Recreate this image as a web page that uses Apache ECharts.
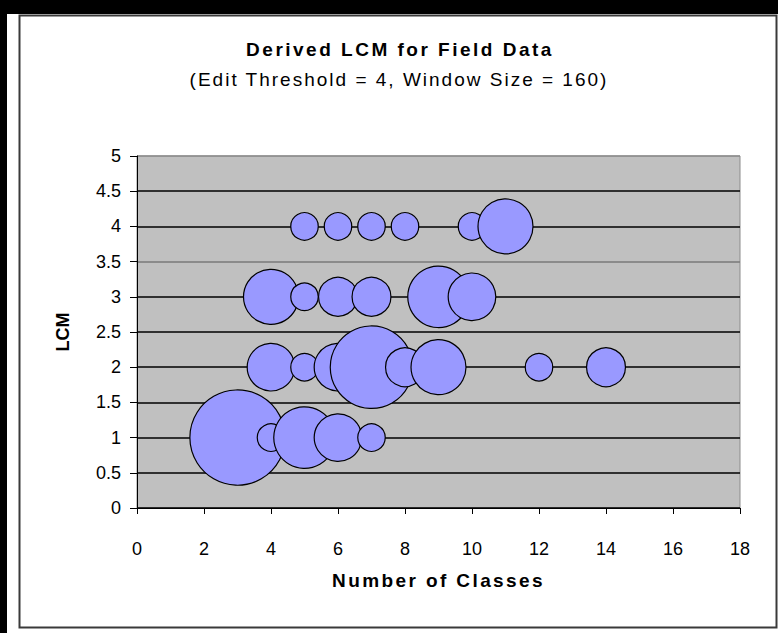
<!DOCTYPE html>
<html>
<head>
<meta charset="utf-8">
<title>Derived LCM for Field Data</title>
<script src="https://cdn.jsdelivr.net/npm/echarts@6/dist/echarts.min.js"></script>
<style>
  html, body { margin: 0; padding: 0; background: #000; }
  #chart { width: 778px; height: 633px; }
</style>
</head>
<body>
<div id="chart"></div>
<script>
// Bubble data: number of classes (x), LCM (y) and occurrence count (bubble size)
const classes = [5, 6, 7, 8, 10, 11,   4, 5, 6, 7, 9, 10,   4, 5, 6, 7, 8, 9, 12, 14,   3, 4, 5, 6, 7];
const lcm     = [4, 4, 4, 4, 4, 4,     3, 3, 3, 3, 3, 3,    2, 2, 2, 2, 2, 2, 2, 2,     1, 1, 1, 1, 1];
const counts  = [1, 1, 1, 1, 1, 4,     4, 1, 2, 2, 5, 3,    3, 1, 3, 9, 2, 4, 1, 2,     12, 1, 5, 3, 1];

const xTicks = [0, 2, 4, 6, 8, 10, 12, 14, 16, 18];
const yTicks = [0, 0.5, 1, 1.5, 2, 2.5, 3, 3.5, 4, 4.5, 5];

const TITLE = 'Derived LCM for Field Data';
const SUBTITLE = '(Edit Threshold = 4, Window Size = 160)';
const X_NAME = 'Number of Classes';
const Y_NAME = 'LCM';

const FONT = "'Liberation Sans', Arial, sans-serif";
const points = classes.map((c, i) => [c, lcm[i], counts[i]]);

const chart = echarts.init(document.getElementById('chart'), null, { renderer: 'svg' });
chart.setOption({
  backgroundColor: '#000',
  animation: false,
  graphic: [
    { type: 'rect', z: -10, shape: { x: 7, y: 14, width: 771, height: 619 }, style: { fill: '#fff' } },
    { type: 'rect', z: -9, shape: { x: 19.5, y: 15.5, width: 757, height: 612 },
      style: { fill: '#fff', stroke: '#3a3a3a', lineWidth: 2 } },
    { type: 'text', x: 400, y: 49, style: { text: TITLE, font: 'bold 19px ' + FONT,
      fill: '#000', align: 'center', verticalAlign: 'middle' } },
    { type: 'text', x: 399, y: 79, style: { text: SUBTITLE, font: '19px ' + FONT,
      fill: '#000', align: 'center', verticalAlign: 'middle' } }
  ],
  grid: {
    left: 137, top: 156, width: 603, height: 352,
    show: true, backgroundColor: '#c0c0c0', borderColor: '#8c8c8c', borderWidth: 1
  },
  xAxis: {
    type: 'value', min: 0, max: 18, interval: 2,
    name: X_NAME, nameLocation: 'middle', nameGap: 63,
    nameTextStyle: { fontFamily: FONT, fontSize: 19, fontWeight: 'bold', color: '#000' },
    axisLine: { show: true, onZero: false, lineStyle: { color: '#000', width: 1 } },
    axisTick: { show: true, length: 6, lineStyle: { color: '#000' } },
    axisLabel: { margin: 32, fontFamily: FONT, fontSize: 18, color: '#000',
      formatter: v => xTicks.includes(v) ? String(v) : '' },
    splitLine: { show: false }
  },
  yAxis: {
    type: 'value', min: 0, max: 5, interval: 0.5,
    name: Y_NAME, nameLocation: 'middle', nameGap: 65, nameRotate: 90,
    nameTextStyle: { fontFamily: FONT, fontSize: 18, fontWeight: 'bold', color: '#000' },
    axisLine: { show: true, onZero: false, lineStyle: { color: '#000', width: 1 } },
    axisTick: { show: true, length: 7, lineStyle: { color: '#000' } },
    axisLabel: { margin: 16, fontFamily: FONT, fontSize: 18, color: '#000',
      formatter: v => yTicks.includes(v) ? String(v) : '' },
    splitLine: { show: true, lineStyle: { width: 1.5,
      color: ['#000', '#000', '#000', '#000', '#000', '#000', '#000', '#7a7a7a', '#000', '#000', '#8c8c8c'] } }
  },
  series: [{
    type: 'scatter',
    data: points,
    symbol: 'circle',
    symbolSize: v => 27.5 * Math.sqrt(v[2]),
    itemStyle: { color: '#9999ff', borderColor: '#000', borderWidth: 1.2, opacity: 1 },
    emphasis: { disabled: true }
  }]
});

// Wider letter spacing for the title block and the x-axis caption
const spacing = { [TITLE]: '2.5px', [SUBTITLE]: '2px', [X_NAME]: '2.4px' };
document.querySelectorAll('#chart svg text').forEach(t => {
  const s = spacing[t.textContent];
  if (s) t.style.letterSpacing = s;
});
</script>
</body>
</html>
